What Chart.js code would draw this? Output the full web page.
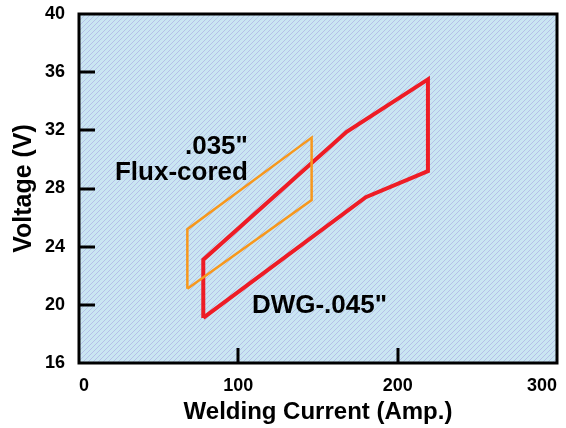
<!DOCTYPE html>
<html><head><meta charset="utf-8">
<script src="https://cdn.jsdelivr.net/npm/chart.js@4"></script>
<style>html,body{margin:0;padding:0;background:#fff;}canvas{display:block;}</style>
</head><body>
<canvas id="c" width="566" height="428"></canvas>
<script>
// ---- data ----
const xTicks = [0, 100, 200, 300];
const yTicks = [16, 20, 24, 28, 32, 36, 40];
const fluxX = [68, 68, 146, 146, 68];
const fluxY = [21.1, 25.2, 31.5, 27.2, 21.1];
const dwgX = [78, 78, 168, 219, 219, 180, 78];
const dwgY = [19.1, 23.1, 31.9, 35.5, 29.2, 27.4, 19.1];
const noteText = ['.035"', 'Flux-cored', 'DWG-.045"'];
const noteX = [106, 106, 108.5];
const noteY = [30.4, 28.6, 19.45];
const noteAlign = ['right', 'right', 'left'];

const FONT = '"Liberation Sans", Arial, Helvetica, sans-serif';

// hatch pattern for plot background
const pc = document.createElement('canvas');
pc.width = 5; pc.height = 5;
const pg = pc.getContext('2d');
pg.fillStyle = '#cae6f2';
pg.fillRect(0, 0, 5, 5);
pg.fillStyle = '#b5c0e8';
for (let i = 0; i < 5; i++) pg.fillRect(i, 4 - i, 1, 1);
const pattern = pg.createPattern(pc, 'repeat');

const toPts = (xs, ys) => xs.map((x, i) => ({x: x, y: ys[i]}));

const deco = {
  id: 'deco',
  beforeDatasetsDraw(chart) {
    const {ctx, chartArea: a} = chart;
    ctx.save();
    ctx.fillStyle = pattern;
    ctx.fillRect(a.left, a.top, a.right - a.left, a.bottom - a.top);
    ctx.restore();
  },
  afterDatasetsDraw(chart) {
    const {ctx, chartArea: a, scales} = chart;
    const xs = scales.x, ys = scales.y;
    ctx.save();
    // inward tick marks
    ctx.strokeStyle = '#000';
    ctx.lineWidth = 3;
    ctx.beginPath();
    yTicks.slice(1, -1).forEach(v => {
      const py = Math.round(ys.getPixelForValue(v));
      ctx.moveTo(a.left, py); ctx.lineTo(a.left + 16, py);
    });
    xTicks.slice(1, -1).forEach(v => {
      const px = Math.round(xs.getPixelForValue(v));
      ctx.moveTo(px, a.bottom); ctx.lineTo(px, a.bottom - 15);
    });
    ctx.stroke();
    // frame
    ctx.lineWidth = 3;
    ctx.strokeRect(a.left, a.top, a.right - a.left, a.bottom - a.top);
    // annotations
    ctx.fillStyle = '#000';
    ctx.font = 'bold 26px ' + FONT;
    ctx.textBaseline = 'alphabetic';
    noteText.forEach((t, i) => {
      ctx.textAlign = noteAlign[i];
      ctx.fillText(t, xs.getPixelForValue(noteX[i]), ys.getPixelForValue(noteY[i]));
    });
    ctx.restore();
  }
};

new Chart(document.getElementById('c'), {
  type: 'scatter',
  data: {
    datasets: [
      {data: toPts(fluxX, fluxY), showLine: true, borderColor: '#f7981d', borderWidth: 2.5,
       pointRadius: 0, borderJoinStyle: 'miter', fill: false, tension: 0},
      {data: toPts(dwgX, dwgY), showLine: true, borderColor: '#ee1c25', borderWidth: 4,
       pointRadius: 0, borderJoinStyle: 'miter', fill: false, tension: 0}
    ]
  },
  options: {
    responsive: false,
    animation: false,
    devicePixelRatio: 1,
    layout: {padding: {top: 14, right: 9, left: 0, bottom: 0}},
    plugins: {legend: {display: false}, tooltip: {enabled: false}},
    scales: {
      x: {
        type: 'linear', min: 0, max: 300,
        afterBuildTicks: s => { s.ticks = xTicks.map(v => ({value: v})); },
        grid: {display: false, drawTicks: false}, border: {display: false},
        ticks: {font: {family: FONT, size: 18, weight: 'bold'}, color: '#000', padding: 12,
                align: 'inner', maxRotation: 0, autoSkip: false},
        title: {display: true, text: 'Welding Current (Amp.)', color: '#000',
                font: {family: FONT, size: 24, weight: 'bold'}, padding: {top: 0, bottom: 1}},
        afterFit: s => { s.height = 65; s.paddingLeft = 0; s.paddingRight = 0; }
      },
      y: {
        type: 'linear', min: 16, max: 40,
        afterBuildTicks: s => { s.ticks = yTicks.map(v => ({value: v})); },
        grid: {display: false, drawTicks: false}, border: {display: false},
        ticks: {font: {family: FONT, size: 18, weight: 'bold'}, color: '#000', padding: 14, autoSkip: false},
        title: {display: true, text: 'Voltage (V)', color: '#000',
                font: {family: FONT, size: 25, weight: 'bold'}, padding: {top: 9, bottom: 0}},
        afterFit: s => { s.width = 79; s.paddingTop = 0; s.paddingBottom = 0; }
      }
    }
  },
  plugins: [deco]
});
</script>
</body></html>
